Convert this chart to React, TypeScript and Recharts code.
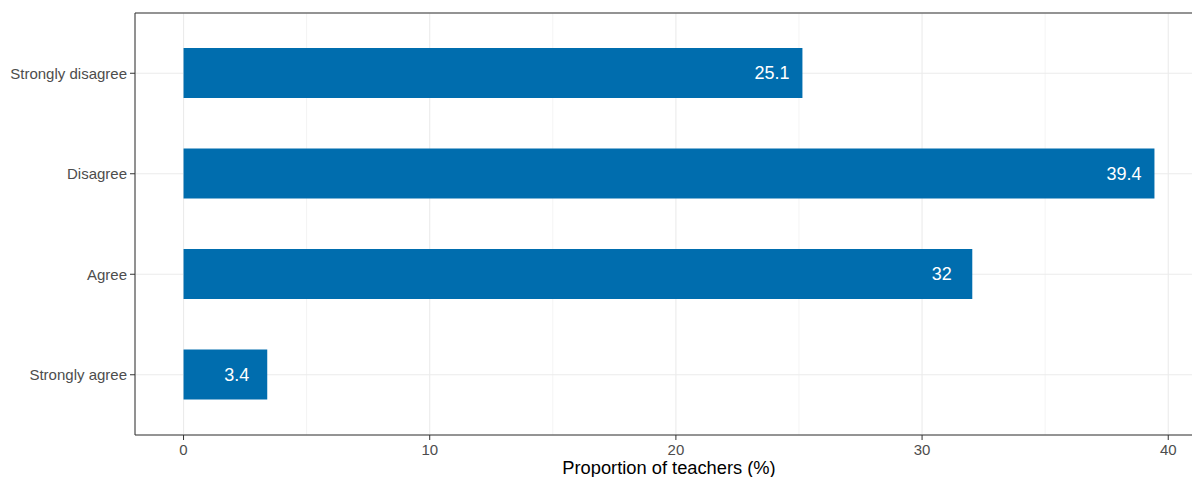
import React from 'react';
import {
  BarChart,
  Bar,
  XAxis,
  YAxis,
  CartesianGrid,
  LabelList,
  Label,
} from 'recharts';

// responses, top to bottom
const categories = ['Strongly disagree', 'Disagree', 'Agree', 'Strongly agree'];
const proportions = [25.14, 39.44, 32.04, 3.4];
const labels = ['25.1', '39.4', '32', '3.4'];
const xTicks = [0, 10, 20, 30, 40];
const minorTicks = [5, 15, 25, 35];

const data = categories.map((c, i) => ({ response: c, value: proportions[i], label: labels[i] }));

const FONT = '"Liberation Sans", Arial, Helvetica, sans-serif';
const BAR = '#006DAE';
const GRID = '#EBEBEB';
const INK = '#333333';

// ggplot-style 5% expansion around the data range
const maxVal = Math.max(...proportions);
const pad = maxVal * 0.05;
const domain: [number, number] = [-pad, maxVal + pad];

const renderValue = (props: any) => {
  const { x, y, width, height, value } = props;
  return (
    <text
      x={x + width - 30.5}
      y={y + height / 2}
      textAnchor="middle"
      dominantBaseline="central"
      fill="#ffffff"
      fontSize={18}
      fontFamily={FONT}
    >
      {value}
    </text>
  );
};

const renderTitle = (props: any) => {
  const { viewBox } = props;
  return (
    <text
      x={viewBox.x + viewBox.width / 2}
      y={viewBox.y + 39}
      textAnchor="middle"
      fill="#000000"
      fontSize={18.3}
      fontFamily={FONT}
    >
      Proportion of teachers (%)
    </text>
  );
};

export default function App() {
  return (
    <div style={{ position: 'fixed', left: 0, top: 0, width: 1192, height: 477, overflow: 'hidden', background: '#fff' }}>
      <BarChart
        width={1215}
        height={490}
        data={data}
        layout="vertical"
        margin={{ top: 12, right: 12, left: 0, bottom: 0 }}
        style={{ fontFamily: FONT }}
      >
        {/* minor gridlines on a hidden axis */}
        <CartesianGrid xAxisId="minor" stroke={GRID} strokeWidth={0.6} horizontal={false} />
        <CartesianGrid stroke={GRID} strokeWidth={1.1} />
        <XAxis
          type="number"
          domain={domain}
          ticks={xTicks}
          allowDataOverflow
          height={55}
          tickSize={5}
          tickMargin={4}
          stroke={INK}
          tick={{ fill: '#4D4D4D', fontSize: 15, fontFamily: FONT }}
        >
          <Label content={renderTitle} />
        </XAxis>
        <XAxis xAxisId="minor" type="number" domain={domain} ticks={minorTicks} allowDataOverflow hide />
        {/* top edge of the panel border */}
        <XAxis
          xAxisId="top"
          orientation="top"
          type="number"
          domain={domain}
          ticks={xTicks}
          allowDataOverflow
          height={1}
          tick={false}
          tickLine={false}
          axisLine={{ stroke: INK, strokeWidth: 1.1 }}
        />
        <YAxis
          type="category"
          dataKey="response"
          width={135}
          padding={{ top: 10, bottom: 10 }}
          tickSize={5}
          tickMargin={3}
          stroke={INK}
          tick={{ fill: '#4D4D4D', fontSize: 15, fontFamily: FONT }}
        />
        <Bar dataKey="value" fill={BAR} barSize={50} isAnimationActive={false}>
          <LabelList dataKey="label" content={renderValue} />
        </Bar>
      </BarChart>
    </div>
  );
}
